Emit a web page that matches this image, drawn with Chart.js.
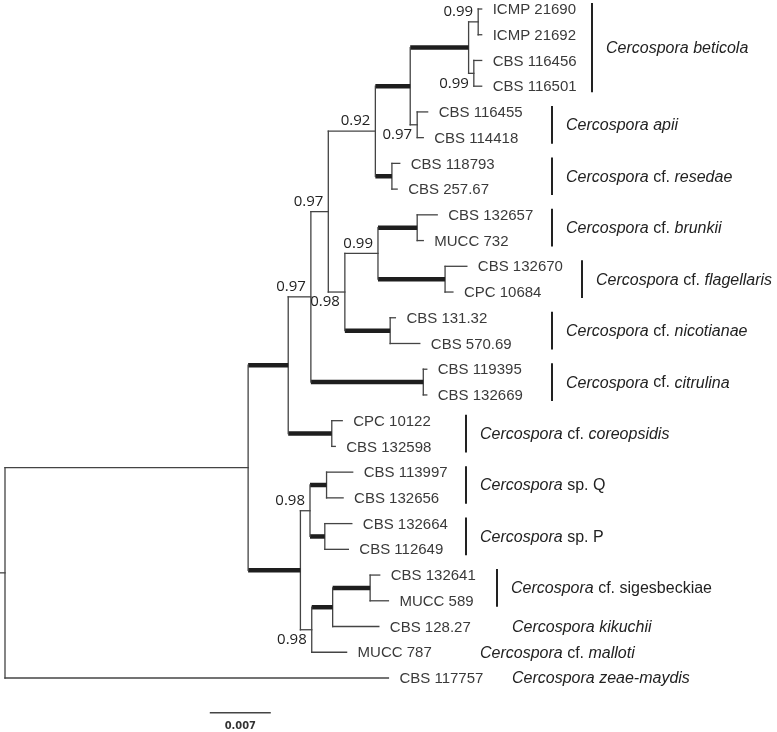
<!DOCTYPE html>
<html>
<head>
<meta charset="utf-8">
<script src="https://cdn.jsdelivr.net/npm/chart.js@4.4.1/dist/chart.umd.min.js"></script>
<style>
  html, body { margin: 0; padding: 0; background: #fff; }
  #wrap { width: 777px; height: 732px; }
</style>
</head>
<body>
<div id="wrap"><canvas id="treeCanvas"></canvas></div>
<script>
// tip labels, top to bottom, with their distance from the root (subst./site)
const leafNames = [
  'ICMP 21690', 'ICMP 21692', 'CBS 116456', 'CBS 116501',
  'CBS 116455', 'CBS 114418', 'CBS 118793', 'CBS 257.67',
  'CBS 132657', 'MUCC 732', 'CBS 132670', 'CPC 10684',
  'CBS 131.32', 'CBS 570.69', 'CBS 119395', 'CBS 132669',
  'CPC 10122', 'CBS 132598', 'CBS 113997', 'CBS 132656',
  'CBS 132664', 'CBS 112649', 'CBS 132641', 'MUCC 589',
  'CBS 128.27', 'MUCC 787', 'CBS 117757'
];
const leafDepth = [
  0.0547, 0.0547, 0.0547, 0.0547,
  0.0485, 0.0480, 0.0453, 0.0450,
  0.0496, 0.0480, 0.0530, 0.0514,
  0.0448, 0.0476, 0.0484, 0.0484,
  0.0387, 0.0379, 0.0399, 0.0388,
  0.0398, 0.0394, 0.0430, 0.0440,
  0.0429, 0.0392, 0.0440
];

// internal nodes: children are leaf indices or node ids
const nodeIds = ['root', 'ingroup', 'up', 'n311', 'n328', 'bar', 'ba', 'bet', 'bet1', 'bet2',
  'apii', 'res', 'n345', 'n378', 'bru', 'fla', 'nic', 'cit', 'cor',
  'low', 'l310', 'spq', 'spp', 'l312', 'l333', 'sig'];
const nodeDepth = [0, 0.0279, 0.0325, 0.0351, 0.0371, 0.0425, 0.0465, 0.0532, 0.0543, 0.0538,
  0.0473, 0.0444, 0.0390, 0.0428, 0.0473, 0.0505, 0.0442, 0.0480, 0.0375,
  0.0339, 0.0350, 0.0369, 0.0367, 0.0352, 0.0376, 0.0419];
const nodeChildren = [
  ['ingroup', 26], ['up', 'low'], ['n311', 'cor'], ['n328', 'cit'], ['bar', 'n345'],
  ['ba', 'res'], ['bet', 'apii'], ['bet1', 'bet2'], [0, 1], [2, 3],
  [4, 5], [6, 7], ['n378', 'nic'], ['bru', 'fla'], [8, 9], [10, 11], [12, 13], [14, 15], [16, 17],
  ['l310', 'l312'], ['spq', 'spp'], [18, 19], [20, 21], ['l333', 25], ['sig', 24], [22, 23]
];
const nodeSupport = [null, null, null, 0.97, 0.97, 0.92, null, null, 0.99, 0.99,
  0.97, null, 0.98, 0.99, null, null, null, null, null,
  null, 0.98, null, null, 0.98, null, null];
// branches drawn bold in the figure
const thickBranches = ['up', 'ba', 'bet', 'res', 'bru', 'fla', 'nic', 'cit', 'cor',
  'low', 'spq', 'spp', 'l333', 'sig'];

// species groups
const cladeNames = [
  '*Cercospora beticola*', '*Cercospora apii*', '*Cercospora* cf. *resedae*',
  '*Cercospora* cf. *brunkii*', '*Cercospora* cf. *flagellaris*', '*Cercospora* cf. *nicotianae*',
  '*Cercospora* cf. *citrulina*', '*Cercospora* cf. *coreopsidis*', '*Cercospora* sp. Q',
  '*Cercospora* sp. P', '*Cercospora* cf. sigesbeckiae', '*Cercospora kikuchii*',
  '*Cercospora* cf. *malloti*', '*Cercospora zeae-maydis*'
];
const cladeFirst = [0, 4, 6, 8, 10, 12, 14, 16, 18, 20, 22, 24, 25, 26];
const cladeLast = [3, 5, 7, 9, 11, 13, 15, 17, 19, 21, 23, 24, 25, 26];

const scaleBarLength = 0.007;
const scaleBarLabel = '0.007';

// layout only
const cladeColumnPx = [592, 552, 552, 552, 582, 552, 552, 466, 466, 466, 497, 498, 466, 498];
const supportBelow = ['bet2', 'apii', 'n345', 'l312'];
const unitsPerPx = scaleBarLength / 61;
const rowPx = 25.73;
const scaleBarStart = 0.0235;
const scaleBarRow = 27.35;

const nodeIndex = {};
nodeIds.forEach((id, i) => { nodeIndex[id] = i; });

function depthOf(c) {
  return typeof c === 'number' ? leafDepth[c] : nodeDepth[nodeIndex[c]];
}
function yOf(c) {
  if (typeof c === 'number') return c;
  const ys = nodeChildren[nodeIndex[c]].map(yOf);
  return (Math.min(...ys) + Math.max(...ys)) / 2;
}

const datasets = [];
function addSegment(points, thick) {
  datasets.push({
    data: points,
    showLine: true,
    borderColor: thick ? '#1e1e1e' : '#444',
    borderWidth: thick ? 4.5 : 1.3,
    borderCapStyle: thick ? 'butt' : 'square',
    pointRadius: 0,
    pointHoverRadius: 0,
    fill: false
  });
}

nodeIds.forEach((id, i) => {
  const d = nodeDepth[i];
  const ys = nodeChildren[i].map(yOf);
  addSegment([{ x: d, y: Math.min(...ys) }, { x: d, y: Math.max(...ys) }], false);
  nodeChildren[i].forEach(c => {
    const y = yOf(c);
    addSegment([{ x: d, y: y }, { x: depthOf(c), y: y }], typeof c === 'string' && thickBranches.includes(c));
  });
});
// little stub at the root
addSegment([{ x: -5 * unitsPerPx, y: yOf('root') }, { x: 0, y: yOf('root') }], false);

function drawRichText(ctx, text, x, y) {
  const parts = text.split('*');
  let cx = x;
  parts.forEach((part, i) => {
    if (!part) return;
    ctx.font = (i % 2 === 1 ? 'italic ' : '') + '16px "Liberation Sans", Arial, sans-serif';
    ctx.fillText(part, cx, y);
    cx += ctx.measureText(part).width;
  });
}

const treeLabels = {
  id: 'treeLabels',
  afterDatasetsDraw(chart) {
    const { ctx, scales: { x, y } } = chart;
    ctx.save();
    ctx.textBaseline = 'middle';

    // tip names
    ctx.font = '15px "Liberation Sans", Arial, sans-serif';
    ctx.fillStyle = '#3a3a3a';
    ctx.textAlign = 'left';
    leafNames.forEach((name, i) => {
      ctx.fillText(name, x.getPixelForValue(leafDepth[i]) + 11, y.getPixelForValue(i) + 1);
    });

    // support values
    ctx.font = '15px "Open Sans", sans-serif';
    ctx.fillStyle = '#222';
    ctx.textAlign = 'right';
    nodeIds.forEach((id, i) => {
      if (nodeSupport[i] == null) return;
      const px = x.getPixelForValue(nodeDepth[i]);
      const py = y.getPixelForValue(yOf(id));
      ctx.fillText(nodeSupport[i].toFixed(2), px - 5, py + (supportBelow.includes(id) ? 10 : -10));
    });

    // clade bars and names
    ctx.textAlign = 'left';
    ctx.strokeStyle = '#222';
    ctx.lineWidth = 2;
    cladeNames.forEach((name, i) => {
      const top = y.getPixelForValue(cladeFirst[i]);
      const bottom = y.getPixelForValue(cladeLast[i]);
      const col = cladeColumnPx[i];
      if (cladeLast[i] > cladeFirst[i]) {
        ctx.beginPath();
        ctx.moveTo(col, top - 6);
        ctx.lineTo(col, bottom + 6);
        ctx.stroke();
      }
      ctx.fillStyle = '#222';
      drawRichText(ctx, name, col + 14, (top + bottom) / 2 + 1);
    });

    // scale bar
    const sx0 = x.getPixelForValue(scaleBarStart);
    const sx1 = x.getPixelForValue(scaleBarStart + scaleBarLength);
    const sy = y.getPixelForValue(scaleBarRow);
    ctx.strokeStyle = '#444';
    ctx.lineWidth = 1.5;
    ctx.beginPath();
    ctx.moveTo(sx0, sy);
    ctx.lineTo(sx1, sy);
    ctx.stroke();
    ctx.font = 'bold 11px "Liberation Sans Narrow", "DejaVu Sans Condensed", sans-serif';
    ctx.fillStyle = '#333';
    ctx.textAlign = 'center';
    ctx.fillText(scaleBarLabel, (sx0 + sx1) / 2, sy + 13);
    ctx.restore();
  }
};

const xMin = -5 * unitsPerPx;
const yMin = -9 / rowPx;

new Chart(document.getElementById('treeCanvas'), {
  type: 'scatter',
  data: { datasets: datasets },
  options: {
    responsive: true,
    maintainAspectRatio: false,
    animation: false,
    layout: { padding: 0 },
    plugins: { legend: { display: false }, tooltip: { enabled: false } },
    scales: {
      x: { type: 'linear', display: false, min: xMin, max: xMin + 777 * unitsPerPx },
      y: { type: 'linear', display: false, reverse: true, min: yMin, max: yMin + 732 / rowPx }
    }
  },
  plugins: [treeLabels]
});
</script>
</body>
</html>
